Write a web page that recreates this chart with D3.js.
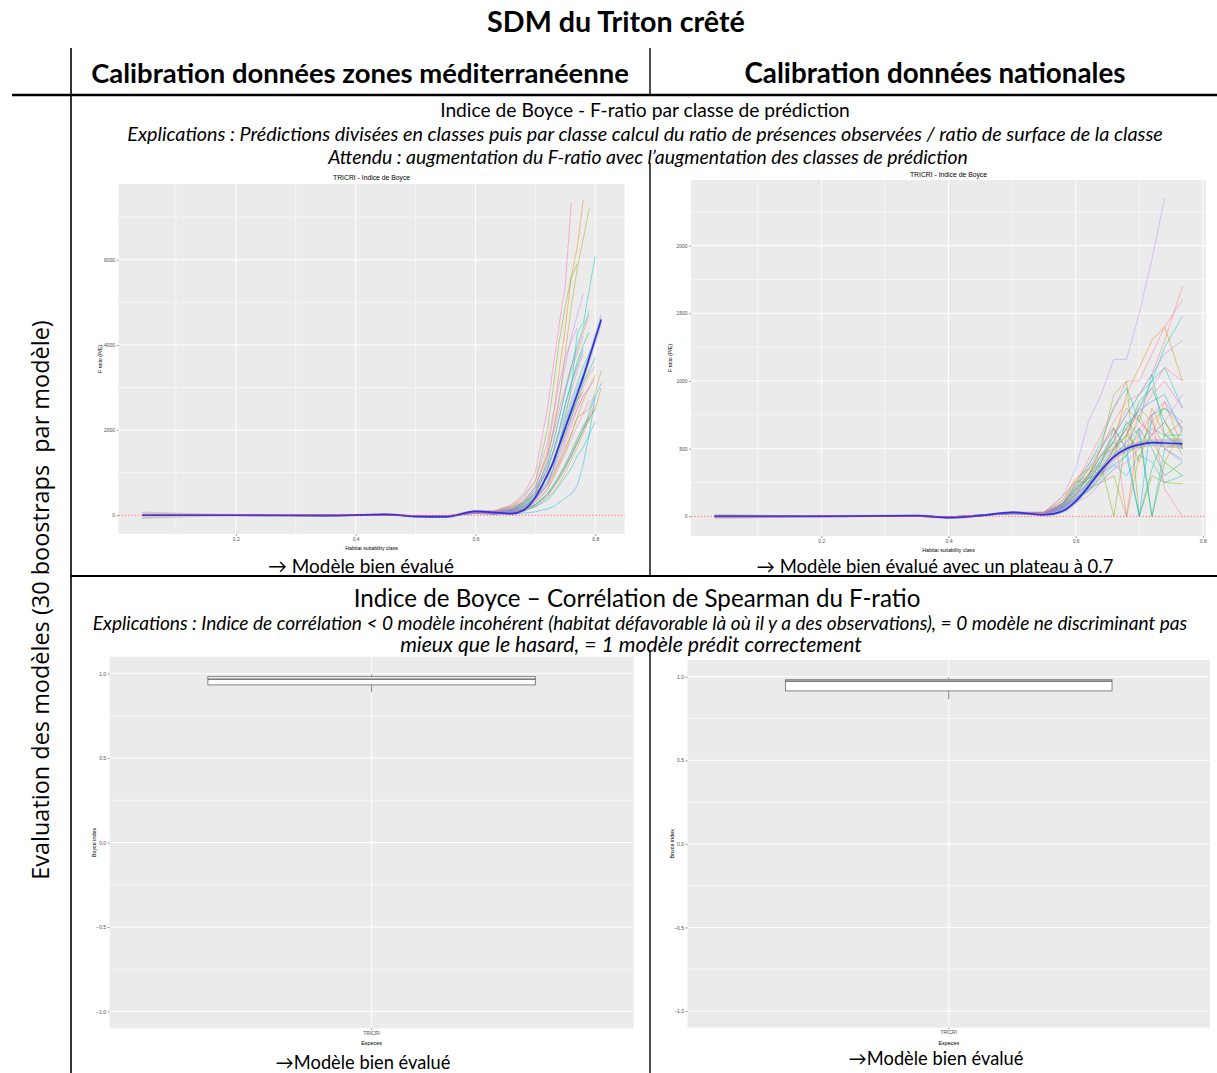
<!DOCTYPE html>
<html>
<head>
<meta charset="utf-8">
<script src="https://cdn.jsdelivr.net/npm/d3@7"></script>
<style>
  body { margin: 0; background: #fff; }
  svg { display: block; }
</style>
</head>
<body>
<svg id="fig" width="1217" height="1073"></svg>
<script>
// ---------- data ----------
const xTicksBoyce = [0.2, 0.4, 0.6, 0.8]
const xMinorBoyce = [0.1, 0.3, 0.5, 0.7]
const medYTicks = [0, 2000, 4000, 6000]
const medYMinor = [1000, 3000, 5000, 7000]
const natYTicks = [0, 500, 1000, 1500, 2000]
const natYMinor = [250, 750, 1250, 1750, 2250]
const boxYTicks = [-1, -0.5, 0, 0.5, 1]
const boxYMinor = [-0.75, -0.25, 0.25, 0.75]
const boxCategories = ["TRICRI"]

// habitat suitability classes (x) for the "zones méditerranéenne" calibration
const medX = [0.044, 0.2, 0.35, 0.45, 0.5, 0.55, 0.6, 0.63, 0.66, 0.68, 0.70, 0.72, 0.73, 0.74, 0.75, 0.76, 0.77, 0.78, 0.79, 0.80, 0.81]
// F-ratio of the 30 bootstraps
const medSeries = [
  [0,5,-10,15,-20,-25,80,60,120,250,500,900,1200,1600,1900,2300,2600,3000,3300,3500,null],
  [0,-5,0,20,-15,-30,90,50,150,300,700,1400,1900,2500,3000,3500,3900,4300,4700,null,null],
  [0,0,-5,10,-10,-20,70,80,200,350,650,1500,2300,3400,4400,5600,6300,7400,null,null,null],
  [0,5,0,15,-20,-30,60,40,80,150,350,700,950,1250,1600,1900,2300,2700,3000,3300,null],
  [0,0,-5,10,-10,-20,50,30,60,100,200,400,550,750,1000,1300,1600,1900,2300,2500,3000],
  [0,5,0,20,-15,-25,90,70,180,300,500,1300,2000,2700,3800,4900,5800,6500,7200,null,null],
  [0,0,-10,15,-20,-30,70,50,90,150,300,600,900,1200,1500,1900,2300,2400,2500,2900,3400],
  [0,-5,0,10,-15,-25,60,40,100,200,450,900,1300,1700,2100,2400,2700,2900,null,null,null],
  [0,0,-5,15,-20,-30,100,90,220,450,800,2000,3000,4100,4900,5600,5900,null,null,null,null],
  [0,5,0,10,-10,-20,50,30,70,120,250,500,700,900,1150,1400,1700,2000,2250,2500,null],
  [0,0,-5,20,-15,-25,80,60,130,250,500,1100,1500,2000,2600,3100,3600,4000,4300,null,null],
  [0,-5,0,15,-20,-30,70,50,110,200,400,800,1100,1500,1900,2300,2700,3100,3400,3700,null],
  [0,0,-10,10,-15,-25,60,40,80,130,250,500,700,950,1200,1500,1800,2100,2300,null,null],
  [0,5,0,20,-20,-30,80,60,120,220,450,900,1300,1700,2200,2700,3100,3500,3800,4100,null],
  [0,0,-5,15,-15,-25,70,50,100,180,400,700,1100,1700,2300,3000,4300,4500,5300,6100,null],
  [0,-5,0,10,-20,-30,90,70,150,300,600,1200,1700,2300,2900,3500,4000,4400,4800,null,null],
  [0,0,-5,15,-10,-20,50,30,60,100,200,350,500,700,900,1100,1400,1600,1900,2200,null],
  [0,5,0,20,-15,-25,80,60,140,280,550,1100,1500,2000,2600,3100,3500,3900,null,null,null],
  [0,0,-10,10,-20,-30,40,20,30,50,80,150,200,300,400,500,700,1200,1900,2800,null],
  [0,-5,0,15,-15,-25,60,40,70,120,250,450,650,850,1100,1400,1700,2000,2400,2800,3100],
  [0,0,-5,10,-20,-30,70,50,110,220,450,900,1250,1650,2100,2600,3000,3300,3600,null,null],
  [0,5,0,20,-10,-20,80,60,140,280,600,1200,1700,2300,2900,3400,3800,4200,null,null,null],
  [0,0,-5,15,-15,-25,90,70,160,320,650,1400,2000,2800,3500,4200,4700,5200,null,null,null],
  [0,-5,0,10,-20,-30,60,40,90,170,350,700,1000,1300,1700,2100,2500,2800,3000,null,null],
  [0,0,-10,15,-15,-25,90,70,200,400,800,1700,2400,3100,3700,4100,4400,null,null,null,null],
  [0,5,0,20,-10,-20,50,30,70,140,300,600,850,1150,1450,1800,2100,2400,2700,null,null],
  [0,0,-5,10,-15,-25,60,40,100,180,380,750,1050,1400,1800,2200,2500,2800,3000,3200,null],
  [0,-5,0,15,-20,-30,110,100,250,500,1000,2500,3500,4500,5400,7350,null,null,null,null,null],
  [0,0,-5,20,-20,-30,80,60,130,260,520,1050,1450,1900,2400,2900,3400,3800,null,null,null],
  [0,5,0,10,-15,-25,50,30,60,110,220,450,650,900,1150,1450,1750,2050,2350,2600,null]
]
const medSmooth = [0, 0, -10, 20, -30, -40, 90, 70, 40, 120, 420, 950, 1250, 1650, 2050, 2450, 2850, 3250, 3700, 4150, 4600]
const medBand = [90, 30, 25, 25, 25, 25, 40, 40, 40, 50, 60, 70, 80, 90, 100, 110, 120, 130, 140, 150, 160]

// habitat suitability classes (x) for the national calibration
const natX = [0.032, 0.2, 0.35, 0.4, 0.45, 0.5, 0.55, 0.58, 0.60, 0.62, 0.64, 0.66, 0.68, 0.70, 0.72, 0.74, 0.768]
const natSeries = [
  [0,0,5,-5,5,20,10,60,150,300,500,700,850,900,1050,1300,1700],
  [0,0,0,-5,10,30,20,80,200,350,450,600,800,700,600,850,500],
  [0,5,5,-10,5,25,15,70,180,320,400,550,900,1100,1300,1400,1000],
  [0,0,0,-5,5,20,20,90,250,300,450,500,650,400,800,600,700],
  [0,0,5,-5,10,30,30,120,280,350,300,500,600,800,700,500,550],
  [0,0,0,-10,5,25,10,50,120,200,250,300,0,450,600,700,450],
  [0,5,5,-5,5,30,25,150,260,250,400,650,500,750,550,400,650],
  [0,0,0,-5,10,20,15,80,160,300,500,900,1000,0,300,250,240],
  [0,0,5,-10,5,25,20,100,200,280,380,0,600,500,700,800,650],
  [0,0,0,-5,5,30,10,60,140,180,300,450,700,600,0,400,300],
  [0,5,5,-5,10,20,20,70,130,250,350,500,600,850,950,700,500],
  [0,0,0,-10,5,25,30,90,210,300,450,550,450,650,500,300,400],
  [0,0,5,-5,5,30,15,80,190,280,320,380,450,0,350,600,520],
  [0,0,0,-5,10,20,20,100,230,380,550,800,950,700,1050,600,600],
  [0,5,5,-10,5,25,25,70,150,260,400,600,750,900,1000,1100,800],
  [0,0,0,-5,5,30,20,60,130,220,380,500,650,800,1000,1250,1480],
  [0,0,5,-5,10,20,10,50,110,200,280,380,300,450,400,250,300],
  [0,0,0,-10,5,25,15,70,160,240,350,450,550,650,0,500,420],
  [0,5,5,-5,10,20,20,100,220,350,500,650,500,0,750,800,700],
  [0,0,0,-5,10,20,20,80,170,280,420,560,680,780,850,900,620],
  [0,0,5,-10,5,25,15,60,120,190,260,350,450,550,650,600,500],
  [0,0,0,-5,5,30,25,90,200,300,450,600,750,900,1050,1200,1300],
  [0,5,5,-5,5,30,30,150,350,700,900,1160,1160,1500,1900,2350,null],
  [0,0,0,-5,5,25,10,50,100,150,250,350,400,500,600,700,900],
  [0,0,5,-10,5,30,20,70,140,230,320,420,550,700,600,500,400],
  [0,0,0,-5,10,20,15,60,130,210,300,400,500,600,750,850,650],
  [0,5,5,-5,5,25,25,90,190,290,400,520,650,750,900,1000,800],
  [0,0,0,-10,5,30,20,80,160,250,350,480,600,800,950,1100,1000],
  [0,0,5,-5,10,20,15,100,240,420,600,800,1000,1000,1200,1400,1600],
  [0,0,0,-5,5,25,30,120,260,380,520,660,0,650,750,200,0]
]
const natSmooth = [0, 0, 5, -10, 5, 30, 12, 40, 110, 220, 340, 440, 500, 530, 545, 542, 535]
const natBand = [20, 8, 8, 8, 8, 10, 12, 15, 20, 25, 25, 25, 25, 25, 25, 30, 40]

// Boyce index boxplots: [lower whisker, Q1, median, Q3, upper whisker]
const medBox = [0.89, 0.933, 0.967, 0.982, 0.996]
const natBox = [0.865, 0.915, 0.974, 0.982, 0.996]

// ---------- drawing ----------
const svg = d3.select("#fig")
const GG = "Liberation Sans, Arial, sans-serif"
const TXT = "Lato, sans-serif"

// ggplot-like hue colour (polar CIE-Luv, like R's hcl())
function hclLuv(h, c, l) {
  const rad = h * Math.PI / 180
  const u = c * Math.cos(rad), v = c * Math.sin(rad)
  const Y = l > 8 ? Math.pow((l + 16) / 116, 3) : l / 903.3
  const un = 0.19784, vn = 0.46834
  const up = u / (13 * l) + un, vp = v / (13 * l) + vn
  const X = Y * 9 * up / (4 * vp)
  const Z = Y * (12 - 3 * up - 20 * vp) / (4 * vp)
  const lin = [
    3.2404542 * X - 1.5371385 * Y - 0.4985314 * Z,
    -0.9692660 * X + 1.8760108 * Y + 0.0415560 * Z,
    0.0556434 * X - 0.2040259 * Y + 1.0572252 * Z
  ]
  const [r, g, b] = lin.map(cc => {
    const s = cc <= 0.0031308 ? 12.92 * cc : 1.055 * Math.pow(cc, 1 / 2.4) - 0.055
    return Math.round(255 * Math.max(0, Math.min(1, s)))
  })
  return d3.rgb(r, g, b).formatHex()
}

function fitText(sel, w) {
  const cur = sel.node().getComputedTextLength()
  const fs = parseFloat(sel.attr("font-size"))
  sel.attr("font-size", fs * w / cur)
  return sel
}

function label(x, y, text, size, opts = {}) {
  const t = svg.append("text")
    .attr("x", x).attr("y", y)
    .attr("text-anchor", "middle")
    .attr("dominant-baseline", "central")
    .attr("font-family", opts.family || TXT)
    .attr("font-size", size)
    .attr("font-weight", opts.bold ? "bold" : "normal")
    .attr("font-style", opts.italic ? "italic" : "normal")
    .style("white-space", "pre")
    .attr("fill", "#000")
    .text(text)
  if (opts.width) fitText(t, opts.width)
  return t
}

function panelBase(g, c, x, y) {
  g.append("rect")
    .attr("x", c.left).attr("y", c.top)
    .attr("width", c.right - c.left).attr("height", c.bottom - c.top)
    .attr("fill", "#EBEBEB")
  g.selectAll("line.ymin").data(c.yMinor).join("line")
    .attr("class", "ymin")
    .attr("x1", c.left).attr("x2", c.right)
    .attr("y1", d => y(d)).attr("y2", d => y(d))
    .attr("stroke", "#fff").attr("stroke-width", 0.5)
  g.selectAll("line.ymaj").data(c.yTicks).join("line")
    .attr("class", "ymaj")
    .attr("x1", c.left).attr("x2", c.right)
    .attr("y1", d => y(d)).attr("y2", d => y(d))
    .attr("stroke", "#fff").attr("stroke-width", 1)
}

function styleAxis(a) {
  a.select(".domain").remove()
  a.attr("font-family", GG).attr("font-size", 5)
  a.selectAll(".tick line").attr("stroke", "#333").attr("stroke-width", 0.5)
  a.selectAll(".tick text").attr("fill", "#4D4D4D")
}

function boycePanel(c) {
  const g = svg.append("g")
  const x = d3.scaleLinear().domain(c.xDomain).range([c.left, c.right])
  const y = d3.scaleLinear().domain(c.yDomain).range([c.bottom, c.top])
  panelBase(g, c, x, y)
  g.selectAll("line.xmin").data(xMinorBoyce).join("line")
    .attr("class", "xmin")
    .attr("x1", d => x(d)).attr("x2", d => x(d))
    .attr("y1", c.top).attr("y2", c.bottom)
    .attr("stroke", "#fff").attr("stroke-width", 0.5)
  g.selectAll("line.xmaj").data(xTicksBoyce).join("line")
    .attr("class", "xmaj")
    .attr("x1", d => x(d)).attr("x2", d => x(d))
    .attr("y1", c.top).attr("y2", c.bottom)
    .attr("stroke", "#fff").attr("stroke-width", 1)

  const n = c.series.length
  const line = d3.line()
    .defined(d => d != null)
    .x((d, i) => x(c.xs[i]))
    .y(d => y(d))
  g.selectAll("path.boot").data(c.series).join("path")
    .attr("class", "boot")
    .attr("d", line)
    .attr("fill", "none")
    .attr("stroke", (d, i) => hclLuv(15 + i * 360 / n, 100, 65))
    .attr("stroke-opacity", 0.55)
    .attr("stroke-width", 0.85)

  const band = d3.area()
    .x((d, i) => x(c.xs[i]))
    .y0((d, i) => y(d - c.band[i]))
    .y1((d, i) => y(d + c.band[i]))
    .curve(d3.curveMonotoneX)
  g.append("path").datum(c.smooth)
    .attr("d", band)
    .attr("fill", "#999").attr("fill-opacity", 0.4)
  g.append("path").datum(c.smooth)
    .attr("d", line.curve(d3.curveMonotoneX))
    .attr("fill", "none")
    .attr("stroke", "#2F2FEF")
    .attr("stroke-width", 1.7)

  g.append("line")
    .attr("x1", c.left).attr("x2", c.right)
    .attr("y1", y(0)).attr("y2", y(0))
    .attr("stroke", "#FF3030").attr("stroke-width", 0.7)
    .attr("stroke-dasharray", "1.6,1.6")

  g.append("g").attr("transform", `translate(${c.left},0)`)
    .call(d3.axisLeft(y).tickValues(c.yTicks).tickSize(2).tickPadding(1.5).tickFormat(d3.format("d")))
    .call(styleAxis)
  g.append("g").attr("transform", `translate(0,${c.bottom})`)
    .call(d3.axisBottom(x).tickValues(xTicksBoyce).tickSize(2).tickPadding(1).tickFormat(d3.format(".1f")))
    .call(styleAxis)

  g.append("text")
    .attr("x", (c.left + c.right) / 2).attr("y", c.titleY)
    .attr("text-anchor", "middle").attr("dominant-baseline", "central")
    .attr("font-family", GG).attr("font-size", 6.8).attr("fill", "#000")
    .text("TRICRI - Indice de Boyce")
  g.append("text")
    .attr("x", (c.left + c.right) / 2).attr("y", c.bottom + 14)
    .attr("text-anchor", "middle").attr("dominant-baseline", "central")
    .attr("font-family", GG).attr("font-size", 5.2).attr("fill", "#000")
    .text("Habitat suitability class")
  g.append("text")
    .attr("transform", `translate(${c.ylabX},${(c.top + c.bottom) / 2}) rotate(-90)`)
    .attr("text-anchor", "middle").attr("dominant-baseline", "central")
    .attr("font-family", GG).attr("font-size", 5.2).attr("fill", "#000")
    .text("F ratio (P/E)")
}

function boxPanel(c) {
  const g = svg.append("g")
  const y = d3.scaleLinear().domain([-1.1, 1.1]).range([c.bottom, c.top])
  const x = d3.scaleBand().domain(boxCategories).range([c.left, c.right])
    .paddingInner(0.25).paddingOuter(0.225)
  panelBase(g, { ...c, yTicks: boxYTicks, yMinor: boxYMinor }, x, y)
  const cx = x("TRICRI") + x.bandwidth() / 2
  g.append("line")
    .attr("x1", cx).attr("x2", cx).attr("y1", c.top).attr("y2", c.bottom)
    .attr("stroke", "#fff").attr("stroke-width", 1)

  const [lo, q1, med, q3, hi] = c.stats
  g.append("line")
    .attr("x1", cx).attr("x2", cx).attr("y1", y(hi)).attr("y2", y(lo))
    .attr("stroke", "#666").attr("stroke-width", 0.8)
  g.append("rect")
    .attr("x", x("TRICRI")).attr("width", x.bandwidth())
    .attr("y", y(q3)).attr("height", y(q1) - y(q3))
    .attr("fill", "#fff").attr("stroke", "#777").attr("stroke-width", 0.9)
  g.append("line")
    .attr("x1", x("TRICRI")).attr("x2", x("TRICRI") + x.bandwidth())
    .attr("y1", y(med)).attr("y2", y(med))
    .attr("stroke", "#555").attr("stroke-width", 1.3)

  g.append("g").attr("transform", `translate(${c.left},0)`)
    .call(d3.axisLeft(y).tickValues(boxYTicks).tickSize(2).tickPadding(1.5).tickFormat(d3.format(".1f")))
    .call(styleAxis)
  g.append("g").attr("transform", `translate(0,${c.bottom})`)
    .call(d3.axisBottom(x).tickSize(2).tickPadding(1))
    .call(styleAxis)
  g.append("text")
    .attr("x", cx).attr("y", c.bottom + 15)
    .attr("text-anchor", "middle").attr("dominant-baseline", "central")
    .attr("font-family", GG).attr("font-size", 5.4).attr("fill", "#000")
    .text("Especes")
  g.append("text")
    .attr("transform", `translate(${c.ylabX},${y(0)}) rotate(-90)`)
    .attr("text-anchor", "middle").attr("dominant-baseline", "central")
    .attr("font-family", GG).attr("font-size", 5.4).attr("fill", "#000")
    .text("Boyce index")
}

// ---------- charts ----------
boycePanel({
  left: 118.6, right: 624.6, top: 184, bottom: 534,
  xDomain: [0.0043, 0.849], yDomain: [-440, 7780],
  yTicks: medYTicks, yMinor: medYMinor,
  xs: medX, series: medSeries, smooth: medSmooth, band: medBand,
  titleY: 177, ylabX: 100
})
boycePanel({
  left: 691, right: 1206, top: 180, bottom: 536,
  xDomain: [-0.005, 0.805], yDomain: [-145, 2485],
  yTicks: natYTicks, yMinor: natYMinor,
  xs: natX, series: natSeries, smooth: natSmooth, band: natBand,
  titleY: 174, ylabX: 670
})
boxPanel({ left: 109.6, right: 633.6, top: 656.7, bottom: 1028.3, stats: medBox, ylabX: 93.6 })
boxPanel({ left: 687.5, right: 1210, top: 660, bottom: 1027.7, stats: natBox, ylabX: 672 })

// ---------- table frame ----------
const frame = svg.append("g").attr("stroke", "#000")
frame.append("line").attr("x1", 71).attr("x2", 71).attr("y1", 48).attr("y2", 1073).attr("stroke-width", 1.6)
frame.append("line").attr("x1", 650).attr("x2", 650).attr("y1", 48).attr("y2", 95).attr("stroke-width", 1.4)
frame.append("line").attr("x1", 650).attr("x2", 650).attr("y1", 163).attr("y2", 576).attr("stroke-width", 1.4)
frame.append("line").attr("x1", 650).attr("x2", 650).attr("y1", 650).attr("y2", 1073).attr("stroke-width", 1.4)
frame.append("line").attr("x1", 12).attr("x2", 1217).attr("y1", 95).attr("y2", 95).attr("stroke-width", 2.4)
frame.append("line").attr("x1", 71).attr("x2", 1217).attr("y1", 576).attr("y2", 576).attr("stroke-width", 1.8)

// ---------- texts ----------
label(616, 21, "SDM du Triton crêté", 22, { bold: true, width: 258 })
label(360, 72, "Calibration données zones méditerranéenne", 22, { bold: true, width: 538 })
label(935, 72, "Calibration données nationales", 22, { bold: true, width: 381 })

label(645, 109, "Indice de Boyce - F-ratio par classe de prédiction", 18, { width: 410 })
label(645, 133, "Explications : Prédictions divisées en classes puis par classe calcul du ratio de présences observées / ratio de surface de la classe", 15, { italic: true, width: 1036 })
label(648, 156, "Attendu : augmentation du F-ratio avec l’augmentation des classes de prédiction", 15, { italic: true, width: 640 })

label(361, 565, "→ Modèle bien évalué", 16, { width: 186 })
label(935, 566, "→ Modèle bien évalué avec un plateau à 0.7", 16, { width: 357 })

label(637, 597, "Indice de Boyce – Corrélation de Spearman du F-ratio", 18, { width: 567 })
label(640, 622, "Explications : Indice de corrélation < 0 modèle incohérent (habitat défavorable là où il y a des observations), = 0 modèle ne discriminant pas", 15, { italic: true, width: 1095 })
label(631, 644, "mieux que le hasard, = 1 modèle prédit correctement", 15, { italic: true, width: 462 })

label(363, 1062, "→Modèle bien évalué", 16, { width: 175 })
label(936, 1058, "→Modèle bien évalué", 16, { width: 175 })

label(40, 600, "Evaluation des modèles (30 boostraps  par modèle)", 18, { family: "Open Sans, sans-serif", width: 560 })
  .attr("transform", "rotate(-90,40,600)")
</script>
</body>
</html>
